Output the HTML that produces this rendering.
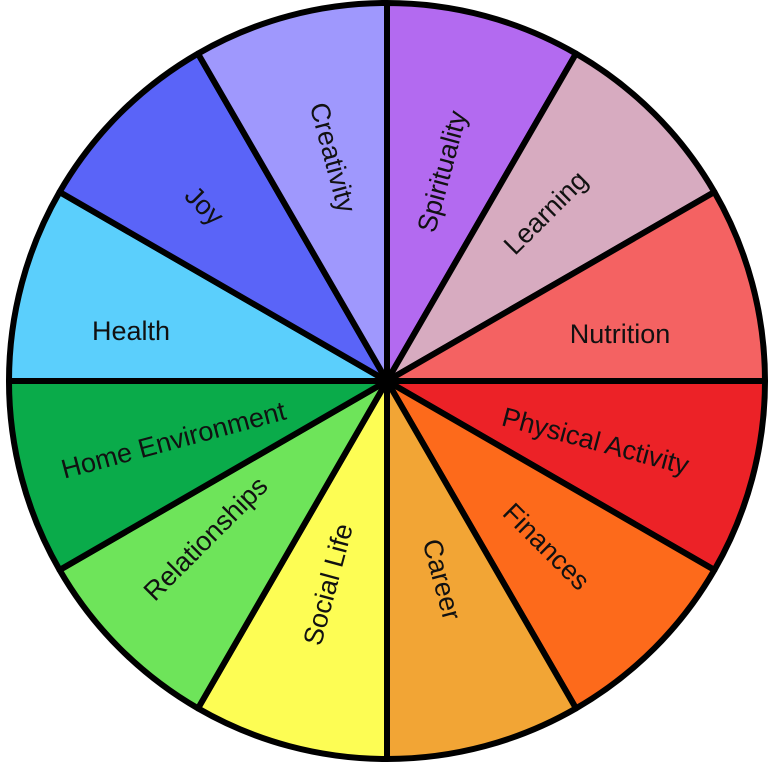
<!DOCTYPE html>
<html><head><meta charset="utf-8"><style>html,body{margin:0;padding:0;background:#fff}svg{display:block}</style></head><body>
<svg width="768" height="768" viewBox="0 0 768 768" xmlns="http://www.w3.org/2000/svg">
<g stroke="#000" stroke-width="6" stroke-linejoin="round">
<path d="M387,381 L387,3 A378,378 0 0 1 576,53.6 Z" fill="#b36af0"/>
<path d="M387,381 L576,53.6 A378,378 0 0 1 714.4,192 Z" fill="#d7abc0"/>
<path d="M387,381 L714.4,192 A378,378 0 0 1 765,381 Z" fill="#f46262"/>
<path d="M387,381 L765,381 A378,378 0 0 1 714.4,570 Z" fill="#ec2227"/>
<path d="M387,381 L714.4,570 A378,378 0 0 1 576,708.4 Z" fill="#fd6a1b"/>
<path d="M387,381 L576,708.4 A378,378 0 0 1 387,759 Z" fill="#f2a535"/>
<path d="M387,381 L387,759 A378,378 0 0 1 198,708.4 Z" fill="#fdfd54"/>
<path d="M387,381 L198,708.4 A378,378 0 0 1 59.6,570 Z" fill="#6ee45a"/>
<path d="M387,381 L59.6,570 A378,378 0 0 1 9,381 Z" fill="#0aab4a"/>
<path d="M387,381 L9,381 A378,378 0 0 1 59.6,192 Z" fill="#5bcffc"/>
<path d="M387,381 L59.6,192 A378,378 0 0 1 198,53.6 Z" fill="#5a64f8"/>
<path d="M387,381 L198,53.6 A378,378 0 0 1 387,3 Z" fill="#9f98fd"/>
</g>
<g font-family="Liberation Sans, sans-serif" font-size="27" fill="#111" text-anchor="middle" dominant-baseline="middle">
<text transform="translate(331,158) rotate(75)">Creativity</text>
<text transform="translate(444,172) rotate(-75)">Spirituality</text>
<text transform="translate(547,214) rotate(-45)">Learning</text>
<text transform="translate(620,336)">Nutrition</text>
<text transform="translate(595,443) rotate(15)">Physical Activity</text>
<text transform="translate(545,548) rotate(45)">Finances</text>
<text transform="translate(440,580) rotate(75)">Career</text>
<text transform="translate(330,585) rotate(-75)">Social Life</text>
<text transform="translate(207,540) rotate(-45)">Relationships</text>
<text transform="translate(174,442) rotate(-15)">Home Environment</text>
<text transform="translate(131,333)">Health</text>
<text transform="translate(203,207) rotate(45)">Joy</text>
</g>
</svg>
</body></html>
